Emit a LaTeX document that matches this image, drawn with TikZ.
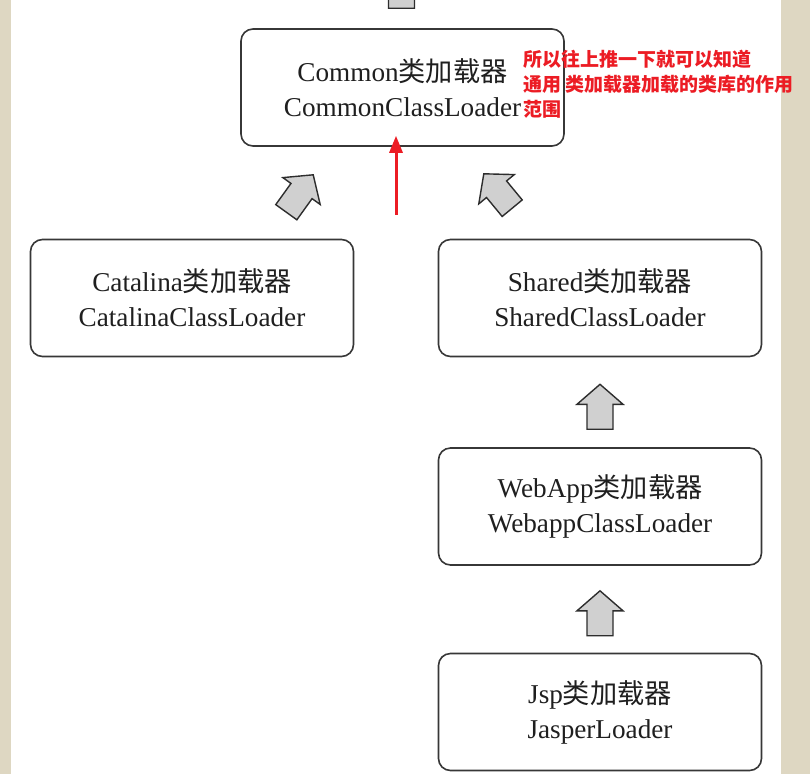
\documentclass[tikz,border=0pt]{standalone}
\usepackage{fontspec}
\setmainfont{Liberation Serif}
\newfontfamily\cjk{Noto Sans CJK SC}
\usetikzlibrary{calc,arrows.meta}
\definecolor{beige}{RGB}{222,215,194}
\definecolor{boxline}{RGB}{55,55,55}
\definecolor{arrline}{RGB}{45,45,45}
\definecolor{arrfill}{RGB}{208,208,208}
\definecolor{annred}{RGB}{236,28,36}
\newcommand\blockarrow[2]{%
  \coordinate (bT) at (#1);
  \coordinate (bP) at (#2);
  \coordinate (bH) at ($(bP)!20pt!(bT)$);
  \draw[blk] ($(bT)!13pt!90:(bP)$) -- ($(bH)!13pt!90:(bP)$) -- ($(bH)!23pt!90:(bP)$) -- (bP)
    -- ($(bH)!23pt!-90:(bP)$) -- ($(bH)!13pt!-90:(bP)$) -- ($(bT)!13pt!-90:(bP)$) -- cycle;}
\begin{document}
\begin{tikzpicture}[x=1pt,y=-1pt,
  box/.style={draw=boxline, line width=1.6pt, rounded corners=12pt, fill=white,
    minimum width=323pt, minimum height=117pt, align=center, inner sep=0pt,
    font=\fontsize{27.2}{35}\selectfont, text=black!88},
  blk/.style={draw=arrline, fill=arrfill, line width=1.4pt, line join=miter},
  redarr/.style={draw=annred, line width=3pt, -{Triangle[length=17pt,width=13pt]}},
  note/.style={anchor=north west, inner sep=0pt, text=annred, align=left,
    font=\cjk\bfseries\fontsize{19}{25}\selectfont}]
\useasboundingbox (0,0) rectangle (810,774);
\fill[white] (0,0) rectangle (810,774);
\fill[beige] (0,0) rectangle (11,774);
\fill[beige] (781,0) rectangle (810,774);

\node[box] (common) at (402.5,87.5) {Common{\cjk 类加载器}\\CommonClassLoader};
\node[box] (catalina) at (192,298) {Catalina{\cjk 类加载器}\\CatalinaClassLoader};
\node[box] (shared) at (600,298) {Shared{\cjk 类加载器}\\SharedClassLoader};
\node[box] (webapp) at (600,506.5) {WebApp{\cjk 类加载器}\\WebappClassLoader};
\node[box] (jsp) at (600,712) {Jsp{\cjk 类加载器}\\JasperLoader};

\begin{scope}
  \clip (0,0) rectangle (810,774);
  \blockarrow{$(common.north)+(-1,-20)$}{$(common.north)+(-1,-67)$}
\end{scope}
\blockarrow{$(catalina.north east)+(-68,-26.5)$}{$(common.south west)+(73,28)$}
\blockarrow{$(shared.north west)+(74.5,-30.5)$}{$(common.south east)+(-81,27)$}
\blockarrow{$(webapp.north)+(0,-18)$}{$(shared.south)+(0,27)$}
\blockarrow{$(jsp.north)+(0,-17)$}{$(webapp.south)+(0,25)$}

\coordinate (redstart) at ($(common.south)+(-6.5,68)$);
\draw[redarr] (redstart) -- ($(common.south)+(-6.5,-11)$);

\node[note] (annot) at (523,50) {所以往上推一下就可以知道\\通用 类加载器加载的类库的作用\\范围};
\end{tikzpicture}
\end{document}
